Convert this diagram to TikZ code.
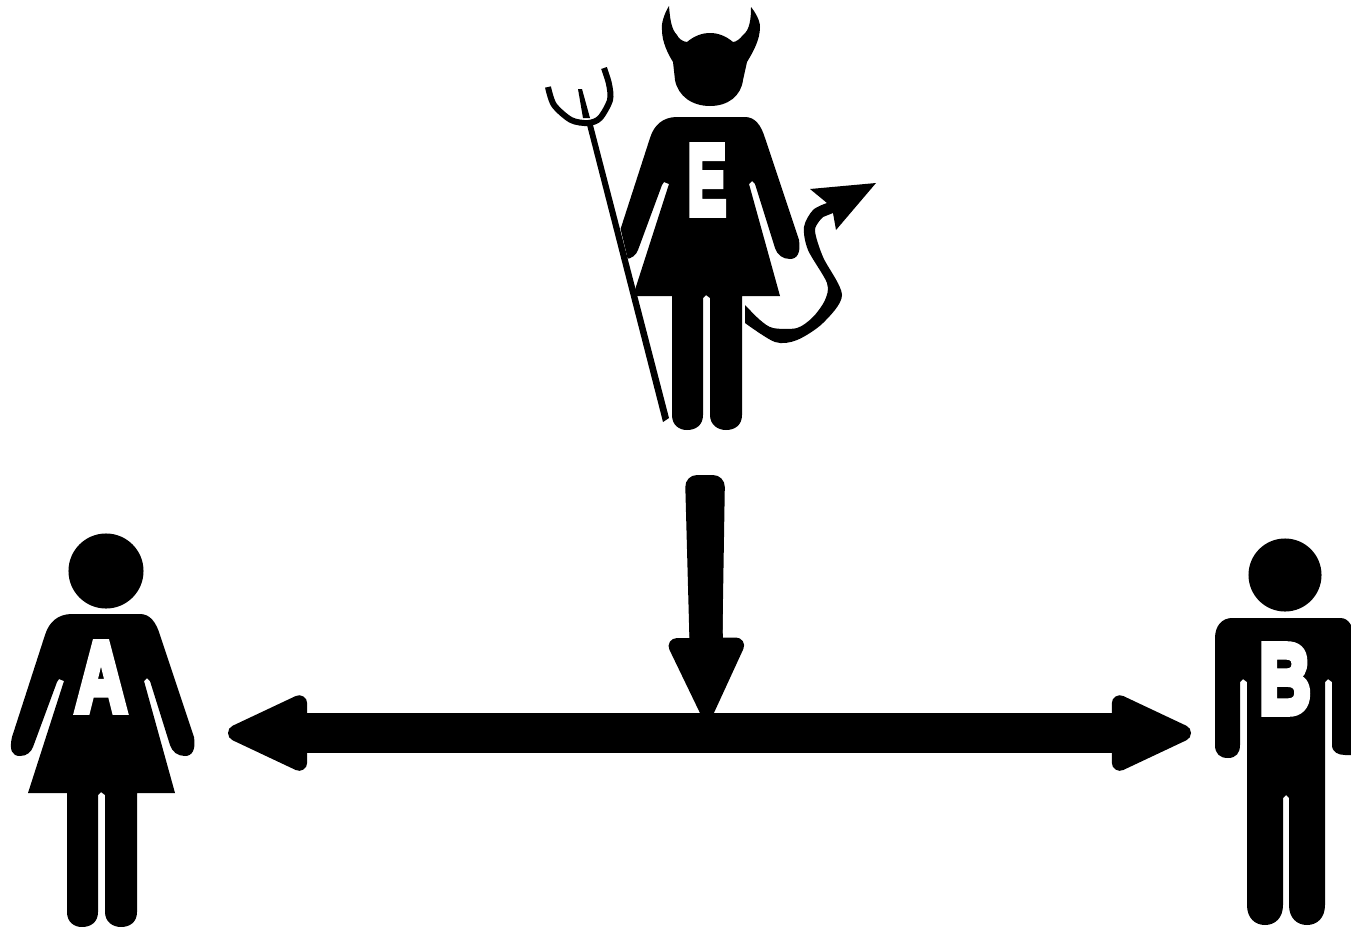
\documentclass[tikz,border=0pt]{standalone}
\usepackage{fontspec}
\usepackage{xcolor}
\usetikzlibrary{arrows.meta, positioning}
\newfontfamily\badgefont[UprightFont=* Bold, UprightFeatures={FakeBold=8}]{Liberation Sans}
\tikzstyle{figure}  = [fill=black, draw=none]
\tikzstyle{headdot} = [circle, fill=black, inner sep=0pt]
\tikzstyle{badge}   = [text=white, inner sep=0pt, transform shape, font=\fontsize{28}{28}\badgefont]
\tikzstyle{fork}    = [draw=black, line width=0.06cm]
\tikzstyle{bigarrow} = [draw=black, line width=0.4cm,
                        {Triangle[length=9.1mm, width=8.0mm, round, line width=1.6mm]}-{Triangle[length=9.1mm, width=8.0mm, round, line width=1.6mm]}]
\tikzstyle{downarrow} = [draw=black, line width=0.33cm,
                        -{Triangle[length=9.1mm, width=8.0mm, round, line width=1.6mm]}]

% same outline for A and E, written at the place of A
\newcommand{\womanpath}{
  (72,614) .. controls (58,614) and (49,622) .. (45,635) -- (12,737)
  .. controls (9,750) and (12,756) .. (20,756) .. controls (27,756) and (31,752) .. (33,747)
  -- (57,682) -- (59,679) -- (64,681) -- (28,793) -- (67,793) -- (67,912)
  .. controls (67,922) and (74,927) .. (82,927) .. controls (91,927) and (98,922) .. (98,912)
  -- (98,795) -- (101,792) -- (105,795) -- (105,912)
  .. controls (105,922) and (113,927) .. (121,927) .. controls (130,927) and (137,922) .. (137,912)
  -- (137,793) -- (175,793) -- (144,681) -- (147,678) -- (150,681) -- (170,745)
  .. controls (172,752) and (178,756) .. (185,756) .. controls (192,756) and (196,750) .. (194,737)
  -- (160,635) .. controls (156,622) and (150,614) .. (140,614) -- cycle}

\begin{document}
\begin{tikzpicture}[x=0.01cm, y=-0.01cm]
  \useasboundingbox (0,0) rectangle (1351,927);

  % A
  \node[headdot, minimum size=0.75cm] (headA) at (106,571) {};
  \fill[figure] \womanpath;
  \node[badge, xscale=0.72] (letterA) at (101,677) {A};

  % B
  \node[headdot, minimum size=0.73cm] (headB) at (1285,575) {};
  \fill[figure] (1232,618) .. controls (1222,618) and (1215,626) .. (1215,638) -- (1215,745)
    .. controls (1215,754) and (1220,758) .. (1228,758) .. controls (1236,758) and (1240,753) .. (1240,745)
    -- (1240,682) -- (1243,679) -- (1247,682) -- (1247,905)
    .. controls (1247,918) and (1255,925) .. (1265,925) .. controls (1275,925) and (1283,918) .. (1283,905)
    -- (1283,798) -- (1286,795) -- (1289,798) -- (1289,905)
    .. controls (1289,918) and (1297,925) .. (1307,925) .. controls (1317,925) and (1325,918) .. (1325,905)
    -- (1325,682) -- (1328,679) -- (1332,682) -- (1332,745)
    .. controls (1332,752) and (1338,755) .. (1345,755) -- (1351,755) -- (1351,625)
    .. controls (1348,620) and (1345,618) .. (1340,618) -- cycle;
  \node[badge, xscale=0.72] (letterB) at (1285,679) {B};

  % E, cut off at the fork on the left
  \begin{scope}
    \clip (590,100) -- (666,420) -- (666,440) -- (800,440) -- (800,100) -- cycle;
    \begin{scope}[shift={(605,-497)}]
      \fill[figure] \womanpath;
    \end{scope}
  \end{scope}
  \fill[figure] (669,6) .. controls (664,14) and (661,24) .. (662,30) .. controls (662,42) and (668,54) .. (673,62)
    -- (675,80) .. controls (678,96) and (692,106) .. (710,106)
    .. controls (728,106) and (741,96) .. (743,80) -- (747,62)
    .. controls (753,52) and (760,40) .. (760,27) .. controls (760,20) and (755,12) .. (751,7)
    .. controls (751,18) and (750,30) .. (743,35) .. controls (740,39) and (736,42) .. (733,42)
    .. controls (726,36) and (718,33) .. (710,33) .. controls (702,33) and (694,36) .. (687,42)
    .. controls (683,42) and (678,38) .. (677,35) .. controls (671,29) and (670,18) .. (669,6) -- cycle;
  \node[badge, xscale=0.58] (letterE) at (707,180) {E};

  % fork
  \fill[figure] (587,125) -- (593,125) -- (669,418) -- (663,422) -- cycle;
  \draw[fork] plot[smooth] coordinates {(548,87) (554,105) (571,120) (588,123) (600,118) (610,100) (609,84) (604,68)};
  \fill[figure] (578,89) -- (582,89) -- (590,118) -- (583,118) -- cycle;

  % tail
  \fill[figure] plot[smooth] coordinates {(745,305) (760,320) (773,328) (797,328) (813,317) (825,300) (827,283)
      (808,250) (804,227) (813,210) (827,203)}
    -- (810,189) -- (876,183) -- (836,230) -- (833,213)
    -- plot[smooth] coordinates {(823,217) (815,230) (823,257) (842,295) (823,323) (797,340) (775,342) (745,323)} -- cycle;

  % arrows
  \coordinate (linkL) at (228,733);
  \coordinate (linkR) at (1191,733);
  \coordinate (dropT) at (705,500);
  \coordinate (dropB) at (707,717);
  \fill[figure, rounded corners=0.12cm] (685,475) -- (725,475) -- (722,660) -- (690,660) -- cycle;
  \draw[bigarrow] (linkL) -- (linkR);
  \draw[downarrow] (dropT) -- (dropB);
\end{tikzpicture}
\end{document}
